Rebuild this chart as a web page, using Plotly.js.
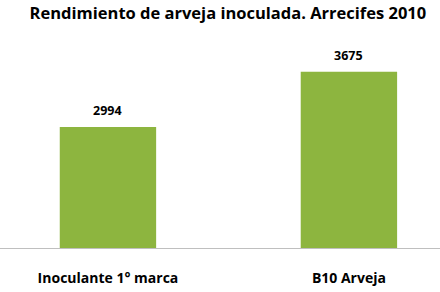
<!DOCTYPE html>
<html>
<head>
<meta charset="utf-8">
<script src="https://cdn.plot.ly/plotly-3.0.1.min.js"></script>
<style>html,body{margin:0;padding:0;background:#fff;}#chart{width:440px;height:292px;}</style>
</head>
<body>
<div id="chart"></div>
<script>
const categories = ["Inoculante 1° marca", "B10 Arveja"];
const values = [2994, 3675];
const titleText = "Rendimiento de arveja inoculada. Arrecifes 2010";

const FONT = "Open Sans, Liberation Sans, sans-serif";

const trace = {
  type: "bar",
  x: categories,
  y: values,
  width: 0.4,
  marker: {color: "#8db53f"},
  hoverinfo: "none"
};

const annotations = categories.map((c, i) => ({
  x: c, y: values[i], xref: "x", yref: "y",
  text: "<b>" + values[i] + "</b>",
  showarrow: false, yanchor: "bottom", yshift: 6,
  font: {family: FONT, size: 12.5, color: "#000"}
}));

const layout = {
  width: 440, height: 292,
  margin: {l: 0, r: 0, t: 40, b: 44},
  paper_bgcolor: "#fff", plot_bgcolor: "#fff",
  showlegend: false,
  title: {text: "<b>" + titleText + "</b>", x: 0.518, xanchor: "center", y: 0.953, yanchor: "middle",
          font: {family: FONT, size: 16.5, color: "#000"}},
  xaxis: {
    type: "category", range: [-0.448, 1.378],
    showline: true, linecolor: "#bfbfbf", linewidth: 1,
    showgrid: false, zeroline: false,
    ticks: "outside", ticklen: 17, tickcolor: "rgba(0,0,0,0)",
    tickvals: categories, ticktext: categories.map(c => "<b>" + c + "</b>"),
    tickfont: {family: FONT, size: 14, color: "#000"}
  },
  yaxis: {
    range: [1500, 4068], visible: false, showgrid: false, zeroline: false
  },
  annotations: annotations
};

Plotly.newPlot("chart", [trace], layout, {displayModeBar: false, staticPlot: true});
</script>
</body>
</html>
